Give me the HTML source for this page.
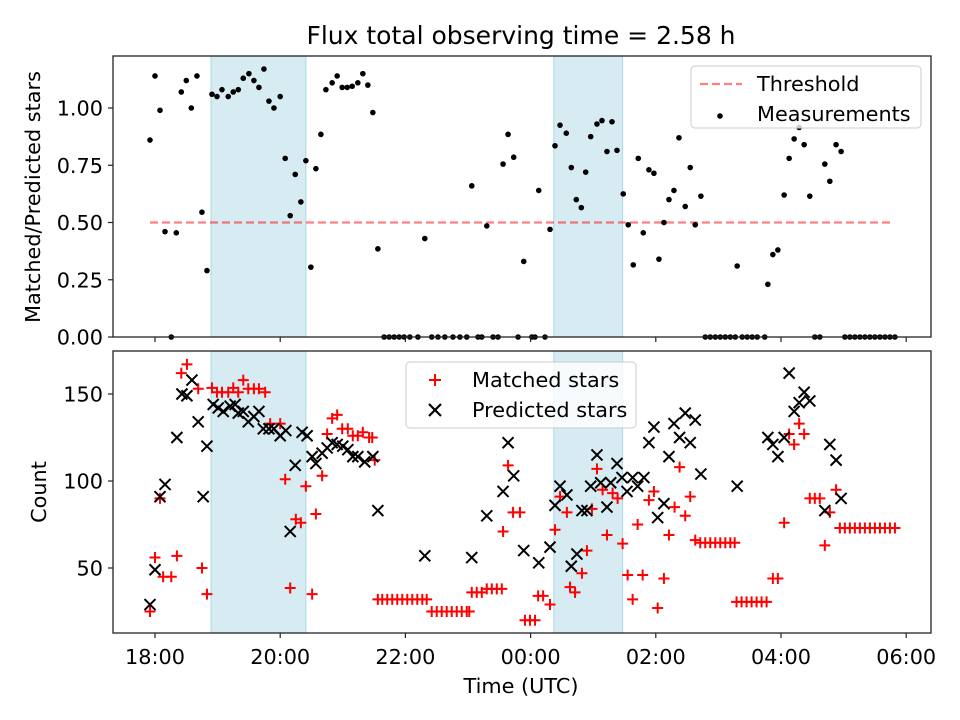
<!DOCTYPE html>
<html><head><meta charset="utf-8"><style>
body{margin:0;background:#fff}
svg{display:block;font-family:"DejaVu Sans","Liberation Sans",sans-serif}
</style></head><body>
<svg id="chart" width="960" height="720" viewBox="0 0 960 720">
<rect width="960" height="720" fill="#fff"/>
<text x="521" y="44" font-size="25" text-anchor="middle" fill="#000">Flux total observing time = 2.58 h</text>
<g id="topPanel"></g>
<g id="botPanel"></g>
</svg>
<script>
// hours since 18:00 UTC
const spanStarts = [0.895, 6.37];
const spanEnds = [2.41, 7.47];
const threshold = 0.5;
const measTimes = [-0.08,0,0.08,0.16,0.26,0.34,0.42,0.50,0.58,0.67,0.75,0.83,0.91,0.99,1.07,1.17,1.25,1.33,1.41,1.50,1.58,1.66,1.74,1.82,1.90,2.00,2.08,2.16,2.24,2.33,2.41,2.49,2.57,2.65,2.73,2.83,2.91,2.99,3.07,3.15,3.24,3.32,3.40,3.48,3.56,
4.31,5.06,5.30,5.56,5.64,5.73,5.89,6.13,6.31,6.39,6.47,6.57,6.65,6.73,6.81,6.88,6.96,7.06,7.14,7.22,7.30,7.38,7.48,7.56,7.64,7.72,7.80,7.89,7.97,8.05,8.13,8.21,8.29,8.37,8.47,8.55,8.63,8.72,9.30,9.79,9.87,9.95,10.05,10.13,10.21,10.29,10.37,10.46,10.70,10.78,10.88,10.96,
3.66,3.74,3.82,3.90,3.98,4.07,4.20,4.42,4.52,4.63,4.76,4.87,4.98,5.16,5.22,5.40,5.48,5.80,6.02,6.07,6.23,8.79,8.87,8.95,9.03,9.11,9.19,9.27,9.38,9.46,9.54,9.62,9.74,10.54,10.62,11.02,11.10,11.18,11.26,11.34,11.42,11.50,11.58,11.66,11.74,11.82];
const measValues = [0.86,1.14,0.99,0.46,0,0.455,1.07,1.12,1.00,1.14,0.545,0.29,1.06,1.05,1.08,1.05,1.07,1.08,1.13,1.15,1.12,1.09,1.17,1.03,1.00,1.05,0.78,0.53,0.71,0.59,0.77,0.305,0.735,0.885,1.08,1.11,1.14,1.09,1.09,1.095,1.11,1.15,1.10,0.98,0.385,
0.43,0.66,0.485,0.755,0.885,0.785,0.33,0.64,0.47,0.835,0.925,0.89,0.74,0.60,0.565,0.72,0.875,0.93,0.945,0.81,0.94,0.815,0.625,0.49,0.315,0.78,0.455,0.73,0.715,0.34,0.50,0.60,0.64,0.87,0.57,0.74,0.49,0.615,0.31,0.23,0.36,0.38,0.62,0.78,0.865,0.915,0.84,0.615,0.755,0.68,0.84,0.81,
0,0,0,0,0,0,0,0,0,0,0,0,0,0,0,0,0,0,0,0,0,0,0,0,0,0,0,0,0,0,0,0,0,0,0,0,0,0,0,0,0,0,0,0,0,0];
const matchedTimes = [-0.08,0,0.08,0.13,0.26,0.35,0.42,0.51,0.69,0.75,0.83,0.91,0.99,1.07,1.17,1.25,1.33,1.41,1.49,1.58,1.66,1.76,1.84,2.00,2.08,2.16,2.25,2.33,2.41,2.51,2.57,2.67,2.75,2.83,2.91,2.99,3.08,3.16,3.24,3.32,3.42,3.47,3.51,
3.56,3.63,3.71,3.79,3.87,3.95,4.03,4.11,4.19,4.27,4.34,4.42,4.50,4.58,4.66,4.74,4.82,4.90,4.98,5.02,5.06,5.14,5.22,5.30,5.38,5.46,5.54,
5.56,5.64,5.72,5.83,5.91,5.99,6.07,6.12,6.20,6.31,6.39,6.47,6.58,6.63,6.71,6.82,6.90,6.98,7.06,7.15,7.22,7.31,7.39,7.47,7.55,7.63,7.71,7.79,7.89,7.97,8.03,8.13,8.21,8.30,8.38,8.47,8.55,8.63,
8.71,8.79,8.87,8.95,9.03,9.11,9.19,9.26,9.29,9.37,9.45,9.53,9.61,9.69,9.77,9.87,9.95,10.05,10.13,10.21,10.29,10.37,10.46,10.54,10.62,10.70,10.78,10.88,
10.94,11.02,11.10,11.18,11.26,11.34,11.42,11.50,11.58,11.66,11.74,11.82];
const matchedValues = [25,56,90,45,45,57,162,167,153,50,35,153.5,151,151,151,153.5,151,158,153,153,153,151,133,133,101,38.5,78,76,97,35,81,103,127,136,138,130,130,126,126,128,125,125,112,
32,32,32,32,32,32,32,32,32,32,32,25,25,25,25,25,25,25,25,25,36,36,36,38,38,38,38,
71,109,82,82,20,20,20,34,34,29,72,91,82,39,36,47,60,84,107,95,69,93,90,64,46,32,75,46,89,94,27,44,69,85,108,80,91,66,
64.5,64.5,64.5,64.5,64.5,64.5,64.5,64.5,30.5,30.5,30.5,30.5,30.5,30.5,30.5,44,44,76,127,121,133,127,90,90,90,63,82,95,
73,73,73,73,73,73,73,73,73,73,73,73];
const predTimes = [-0.08,0,0.08,0.16,0.35,0.43,0.51,0.59,0.69,0.77,0.83,0.93,1.01,1.09,1.20,1.28,1.33,1.41,1.49,1.58,1.66,1.73,1.82,1.90,2.00,2.09,2.16,2.24,2.35,2.43,2.51,2.57,2.67,2.75,2.83,2.91,3.00,3.08,3.16,3.24,3.35,3.48,3.56,
4.31,5.06,5.30,5.56,5.64,5.73,5.89,6.13,6.31,6.39,6.47,6.58,6.65,6.74,6.82,6.90,6.96,7.06,7.12,7.22,7.28,7.38,7.46,7.54,7.63,7.71,7.81,7.89,7.97,8.03,8.13,8.21,8.29,8.38,8.47,8.55,8.63,8.72,
9.30,9.79,9.87,9.95,10.05,10.13,10.21,10.29,10.37,10.46,10.70,10.78,10.88,10.96];
const predValues = [29,49,91,98,125,150,149,158,134,91,120,144,142,140,143,144,139,140,134,137,140,130,130,130,126,129,71,109,128,126,114,110,116,119,122,121,120,118,114,114,111,114,83,
57,56,80,94,122,103,60,53,62,86,97,92,51,58,83,83,97,115,99,85,99,110,102,94,102,97,102,122,131,79,87,114,133,125,139,122,135,104,
97,125,121,114,125,162,140,145,151,146,83,121,112,90];
const xTickHours = [0,2,4,6,8,10,12];
const xTickLabels = ["18:00","20:00","22:00","00:00","02:00","04:00","06:00"];
const topTicks = [0,0.25,0.5,0.75,1.0];
const topTickLabels = ["0.00","0.25","0.50","0.75","1.00"];
const botTicks = [50,100,150];
const botTickLabels = ["50","100","150"];

const NS="http://www.w3.org/2000/svg";
const L=113,R=931;
const FS=20.8;
const X=h=>155+(h)*62.6;
const topY=v=>337-v*229;
const botY=v=>394+(150-v)*1.74;
function mk(parent,tag,attrs){const e=document.createElementNS(NS,tag);for(const k in attrs)e.setAttribute(k,attrs[k]);parent.appendChild(e);return e;}
function txt(parent,x,y,s,size,anchor,extra){const t=mk(parent,'text',Object.assign({x:x,y:y,'font-size':size,'text-anchor':anchor,fill:'#000'},extra||{}));t.textContent=s;return t;}

function panel(g,y0,y1,name){
  for(let i=0;i<spanStarts.length;i++){
    const r=mk(g,'rect',{x:X(spanStarts[i]),y:y0,width:X(spanEnds[i])-X(spanStarts[i]),height:y1-y0,fill:'#add8e6','fill-opacity':0.5,stroke:'#add8e6','stroke-width':1});
    
    
  }
}
function frame(g,y0,y1,name){
  const f=mk(g,'rect',{x:L,y:y0,width:R-L,height:y1-y0,fill:'none',stroke:'#222','stroke-width':1.3});
  
  
  xTickHours.forEach(h=>{mk(g,'line',{x1:X(h),x2:X(h),y1:y1,y2:y1+5,stroke:'#222','stroke-width':1.2});});
}
const topG=document.getElementById('topPanel');
const botG=document.getElementById('botPanel');
panel(topG,56,337,'top');
panel(botG,351,633,'bottom');

const th=mk(topG,'line',{x1:X(-0.08),x2:X(11.76),y1:topY(threshold),y2:topY(threshold),stroke:'#ff0000','stroke-opacity':0.5,'stroke-width':2.2,'stroke-dasharray':'8,4'});


for(let i=0;i<measTimes.length;i++){
  const c=mk(topG,'circle',{cx:X(measTimes[i]),cy:topY(measValues[i]),r:2.8,fill:'#000'});
  
  
}
for(let i=0;i<matchedTimes.length;i++){
  const x=X(matchedTimes[i]),y=botY(matchedValues[i]);
  const p=mk(botG,'path',{d:`M${x-5.5},${y}H${x+5.5}M${x},${y-5.5}V${y+5.5}`,stroke:'#ff0000','stroke-width':2});
  
  
}
for(let i=0;i<predTimes.length;i++){
  const x=X(predTimes[i]),y=botY(predValues[i]);
  const p=mk(botG,'path',{d:`M${x-5.5},${y-5.5}L${x+5.5},${y+5.5}M${x-5.5},${y+5.5}L${x+5.5},${y-5.5}`,stroke:'#000','stroke-width':2});
  
  
}
frame(topG,56,337,'top');
frame(botG,351,633,'bottom');
topTicks.forEach((v,i)=>{const y=topY(v);mk(topG,'line',{x1:L-5,x2:L,y1:y,y2:y,stroke:'#222','stroke-width':1.2});
  const t=txt(topG,L-10,y+7.5,topTickLabels[i],FS,'end');
  
  });
botTicks.forEach((v,i)=>{const y=botY(v);mk(botG,'line',{x1:L-5,x2:L,y1:y,y2:y,stroke:'#222','stroke-width':1.2});
  const t=txt(botG,L-10,y+7.5,botTickLabels[i],FS,'end');
  
  });
xTickHours.forEach((h,i)=>{const t=txt(botG,X(h),664,xTickLabels[i],FS,'middle');
  
  });
let t;
t=txt(botG,521,693,'Time (UTC)',FS,'middle');


t=txt(topG,0,0,'Matched/Predicted stars',FS,'middle',{transform:'translate(40,197) rotate(-90)'});


t=txt(botG,0,0,'Count',FS,'middle',{transform:'translate(46,492) rotate(-90)'});



const lg1=mk(topG,'g',{});


mk(lg1,'rect',{x:691,y:66,width:230,height:62,rx:4,fill:'#fff','fill-opacity':0.8,stroke:'#ccc','stroke-width':1});
mk(lg1,'line',{x1:700,x2:742,y1:84,y2:84,stroke:'#ff0000','stroke-opacity':0.5,'stroke-width':2.2,'stroke-dasharray':'8,4'});
txt(lg1,757,91,'Threshold',FS,'start');
mk(lg1,'circle',{cx:720,cy:116,r:2.8,fill:'#000'});
txt(lg1,757,121,'Measurements',FS,'start');
const lg2=mk(botG,'g',{});


mk(lg2,'rect',{x:406,y:362,width:230,height:66,rx:4,fill:'#fff','fill-opacity':0.8,stroke:'#ccc','stroke-width':1});
mk(lg2,'path',{d:'M429,380H441M435,374V386',stroke:'#ff0000','stroke-width':2});
txt(lg2,472,387,'Matched stars',FS,'start');
mk(lg2,'path',{d:'M429,404L441,416M429,416L441,404',stroke:'#000','stroke-width':2.2});
txt(lg2,472,417,'Predicted stars',FS,'start');
</script>
</body></html>
